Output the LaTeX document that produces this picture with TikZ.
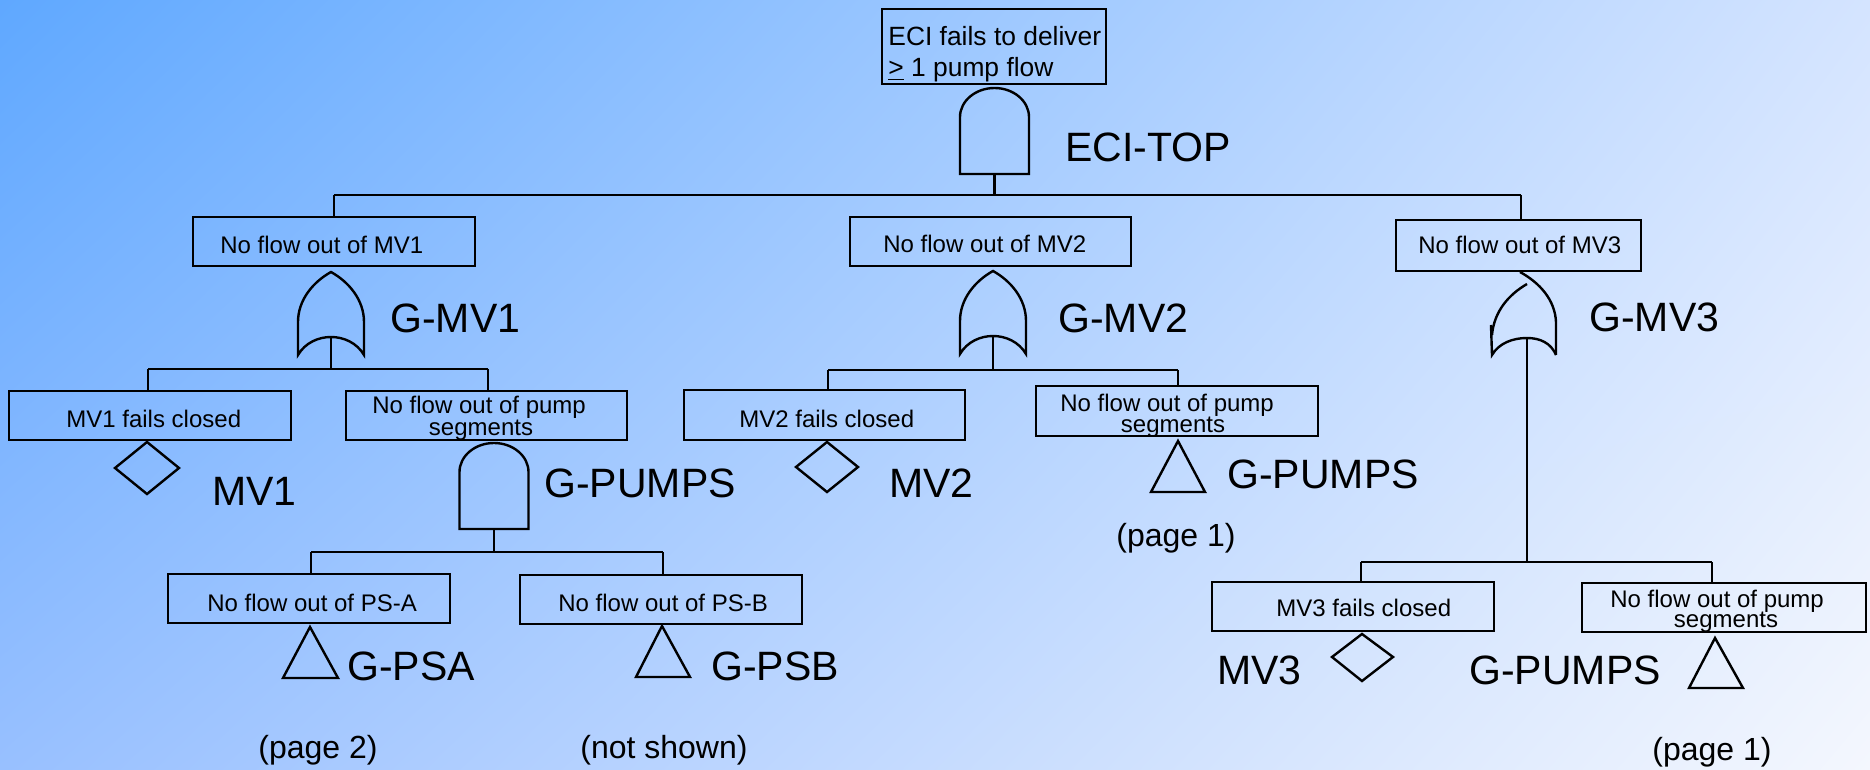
\documentclass[tikz,border=0pt]{standalone}
\usepackage{fontspec}
\setmainfont{Liberation Sans}
\usetikzlibrary{fit,shadings}
\definecolor{bgUL}{RGB}{95,168,255}
\definecolor{bgUR}{RGB}{212,228,255}
\definecolor{bgLL}{RGB}{152,192,255}
\definecolor{bgLR}{RGB}{244,247,254}
\tikzset{
  ln/.style={line width=1.2pt, draw=black},
  box/.style={draw=black, line width=1.2pt, rectangle, inner sep=0pt},
  ttxt/.style={inner sep=0pt, anchor=base west, font=\fontsize{13.2}{15}\selectfont},
  btxt/.style={inner sep=0pt, anchor=base west, font=\fontsize{12}{14}\selectfont},
  btxc/.style={inner sep=0pt, anchor=base, font=\fontsize{12}{14}\selectfont},
  lbl/.style={inner sep=0pt, anchor=base west, font=\fontsize{20.5}{24}\selectfont},
  pg/.style={inner sep=0pt, anchor=base west, font=\fontsize{16}{19}\selectfont},
  andgate/.pic={\draw[ln] (-34.5,86) -- (-34.5,29) .. controls (-34.5,13) and (-19,0) .. (0,0) .. controls (19,0) and (34.5,13) .. (34.5,29) -- (34.5,86) -- cycle;},
  orgate/.pic={\draw[ln] (-33,50) -- (-33,83) .. controls (-26,71) and (-13,65) .. (0,65) .. controls (13,65) and (26,71) .. (33,83) -- (33,50) .. controls (33,28) and (18,10) .. (0,0) .. controls (-18,10) and (-33,28) .. (-33,50);}
}
\begin{document}
\begin{tikzpicture}[x=0.5pt,y=-0.5pt]
\useasboundingbox (0,0) rectangle (1870,770);
\shade[upper left=bgUL, upper right=bgUR, lower left=bgLL, lower right=bgLR] (0,0) rectangle (1870,770);

% ---------- boxes ----------
\node[box, fit={(882,9) (1106,84)}] (top) {};
\node[box, fit={(193,217) (475,266)}] (bmv1) {};
\node[box, fit={(850,217) (1131,266)}] (bmv2) {};
\node[box, fit={(1396,220) (1641,271)}] (bmv3) {};
\node[box, fit={(9,391) (291,440)}] (bmv1c) {};
\node[box, fit={(346,391) (627,440)}] (bp1) {};
\node[box, fit={(168,574) (450,623)}] (bpsa) {};
\node[box, fit={(520,575) (802,624)}] (bpsb) {};
\node[box, fit={(684,390) (965,440)}] (bmv2c) {};
\node[box, fit={(1036,386) (1318,436)}] (bp2) {};
\node[box, fit={(1212,582) (1494,631)}] (bmv3c) {};
\node[box, fit={(1582,583) (1866,632)}] (bp3) {};

% ---------- box texts ----------
\node[ttxt] (t1) at (888,46) {ECI fails to deliver};
\node[ttxt] (t2) at (888,77) {\underline{>} 1 pump flow};
\node[btxt] (tmv1) at (220,254) {No flow out of MV1};
\node[btxt] (tmv2) at (883,253) {No flow out of MV2};
\node[btxt] (tmv3) at (1418,254) {No flow out of MV3};
\node[btxt] (tmv1c) at (66,428) {MV1 fails closed};
\node[btxt] (tp1a) at (372,414) {No flow out of pump};
\node[btxc] (tp1b) at (481,436) {segments};
\node[btxt] (tpsa) at (207,611) {No flow out of PS-A};
\node[btxt] (tpsb) at (558,611) {No flow out of PS-B};
\node[btxt] (tmv2c) at (739,428) {MV2 fails closed};
\node[btxt] (tp2a) at (1060,412) {No flow out of pump};
\node[btxc] (tp2b) at (1173,432) {segments};
\node[btxt] (tmv3c) at (1276,616) {MV3 fails closed};
\node[btxt] (tp3a) at (1610,607) {No flow out of pump};
\node[btxc] (tp3b) at (1726,627) {segments};

% ---------- labels ----------
\node[lbl] (lectop) at (1065,162) {ECI-TOP};
\node[lbl] (lgmv1) at (390,333) {G-MV1};
\node[lbl] (lgmv2) at (1058,333) {G-MV2};
\node[lbl] (lgmv3) at (1589,332) {G-MV3};
\node[lbl] (lmv1) at (212,505) {MV1};
\node[lbl] (lgp1) at (544,497) {G-PUMPS};
\node[lbl] (lmv2) at (889,497) {MV2};
\node[lbl] (lgp2) at (1227,488) {G-PUMPS};
\node[lbl] (lgpsa) at (347,680) {G-PSA};
\node[lbl] (lgpsb) at (711,680) {G-PSB};
\node[lbl] (lmv3) at (1217,684) {MV3};
\node[lbl] (lgp3) at (1469,684) {G-PUMPS};
\node[pg] (pg1a) at (1116,546) {(page 1)};
\node[pg] (pg2) at (258,758) {(page 2)};
\node[pg] (pns) at (580,758) {(not shown)};
\node[pg] (pg1b) at (1652,760) {(page 1)};

% ---------- top gate ----------
\pic at (994.5,88) {andgate};
\coordinate (gtop) at (994.5,174);
\coordinate (bar1L) at (334,195);
\coordinate (bar1R) at (1521,195);
\coordinate (bar1M) at (994.5,195);
\draw[ln] (gtop) -- (bar1M);
\draw[ln] (bar1L) -- (bar1R);
\draw[ln] (bar1L) -- (bar1L |- bmv1.north);
\draw[ln] (bar1R) -- (bar1R |- bmv3.north);

% ---------- G-MV1 ----------
\pic at (331,272) {orgate};
\coordinate (gmv1) at (331,337);
\coordinate (bar2L) at (148,369);
\coordinate (bar2R) at (488,369);
\coordinate (bar2M) at (331,369);
\draw[ln] (gmv1) -- (bar2M);
\draw[ln] (bar2L) -- (bar2R);
\draw[ln] (bar2L) -- (bar2L |- bmv1c.north);
\draw[ln] (bar2R) -- (bar2R |- bp1.north);
\draw[ln] (147,442) -- (179,468) -- (147,494) -- (115,468) -- cycle;

% ---------- G-PUMPS ----------
\pic at (494,443) {andgate};
\coordinate (gp1) at (494,529);
\coordinate (bar3L) at (311,552);
\coordinate (bar3R) at (663,552);
\coordinate (bar3M) at (494,552);
\draw[ln] (gp1) -- (bar3M);
\draw[ln] (bar3L) -- (bar3R);
\draw[ln] (bar3L) -- (bar3L |- bpsa.north);
\draw[ln] (bar3R) -- (bar3R |- bpsb.north);
\draw[ln] (310,627) -- (338,678) -- (283,678) -- cycle;
\draw[ln] (662,626) -- (690,677) -- (636,677) -- cycle;

% ---------- G-MV2 ----------
\pic at (993,271) {orgate};
\coordinate (gmv2) at (993,336);
\coordinate (bar4L) at (828,370);
\coordinate (bar4R) at (1178,370);
\coordinate (bar4M) at (993,370);
\draw[ln] (gmv2) -- (bar4M);
\draw[ln] (bar4L) -- (bar4R);
\draw[ln] (bar4L) -- (bar4L |- bmv2c.north);
\draw[ln] (bar4R) -- (bar4R |- bp2.north);
\draw[ln] (827,442) -- (858,467) -- (827,492) -- (796,467) -- cycle;
\draw[ln] (1178,441) -- (1205,492) -- (1151,492) -- cycle;

% ---------- G-MV3 ----------
\draw[ln] (1527,284) .. controls (1508,295) and (1494,312) .. (1492,335);
\draw[ln] (1520,272) .. controls (1540,283) and (1555,300) .. (1556,322) -- (1556,355);
\draw[ln] (1491,325) -- (1492,355) .. controls (1499,343) and (1513,338) .. (1527,338) .. controls (1540,338) and (1551,343) .. (1556,355);
\coordinate (gmv3) at (1527,338);
\coordinate (bar5L) at (1361,562);
\coordinate (bar5R) at (1712,562);
\coordinate (bar5M) at (1527,562);
\draw[ln] (gmv3) -- (bar5M);
\draw[ln] (bar5L) -- (bar5R);
\draw[ln] (bar5L) -- (bar5L |- bmv3c.north);
\draw[ln] (bar5R) -- (bar5R |- bp3.north);
\draw[ln] (1362,634) -- (1393,657) -- (1362,681) -- (1332,657) -- cycle;
\draw[ln] (1715,638) -- (1743,688) -- (1689,688) -- cycle;
\end{tikzpicture}
\end{document}
